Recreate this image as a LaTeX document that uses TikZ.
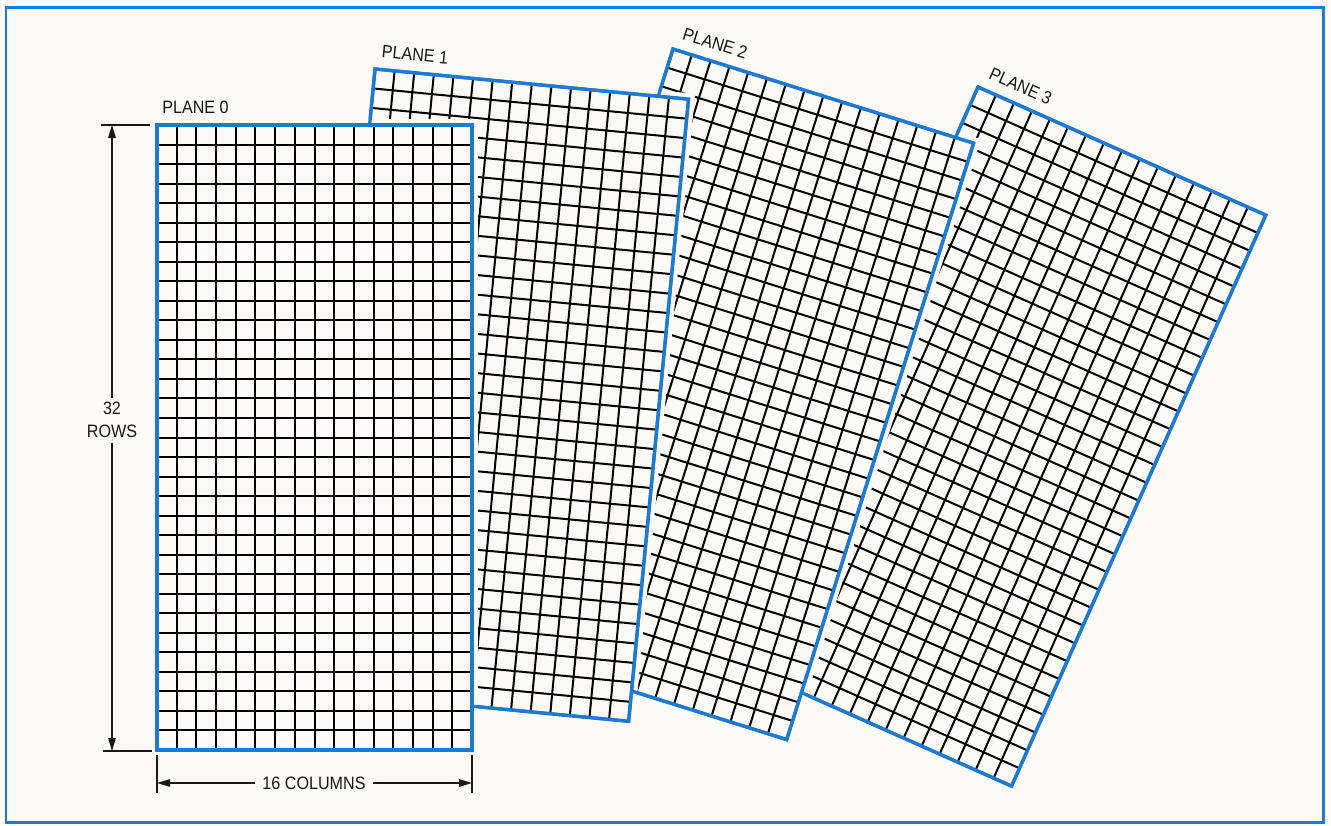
\documentclass[tikz,border=0pt]{standalone}
\usepackage{fontspec}
\setsansfont{Liberation Sans}[FakeStretch=0.9]
\usepackage{tikz}
\usetikzlibrary{arrows.meta}

\definecolor{planeblue}{RGB}{30,122,208}
\definecolor{paper}{RGB}{251,250,246}
\definecolor{ink}{RGB}{25,23,23}

%% one sheet of 16 x 32 cells: fill, grid, blue edge and title
\newcommand{\planesheet}[2]{%
  \begin{scope}[#1]
    \fill[paper] (0,0) rectangle (315,625);
    \foreach \col in {1,...,15}
      \draw[gridline] (\col*19.6875,0) -- (\col*19.6875,625);
    \foreach \row in {1,...,31}
      \draw[gridline] (0,\row*19.53125) -- (315,\row*19.53125);
    \draw[edge] (0,0) rectangle (315,625);
    \node[planelabel] (#1-title) at (5,-12) {#2};
  \end{scope}}

%% white gap round the sheet in front (#1), then the edge of the sheet behind (#2) again
\newcommand{\planehalo}[2]{%
  \begin{scope}[#1]
    \draw[halo] (0,0) rectangle (315,625);
  \end{scope}
  \begin{scope}[#2]
    \draw[edge] (0,0) rectangle (315,625);
  \end{scope}}

\begin{document}
\begin{tikzpicture}[
    x=0.02cm, y=-0.02cm,
    font=\sffamily\fontsize{10.2}{13}\selectfont,
    gridline/.style={black, line width=0.04cm},
    edge/.style={planeblue, line width=0.066cm},
    halo/.style={paper, line width=0.24cm},
    frame/.style={planeblue, line width=0.06cm},
    dimline/.style={ink, line width=0.026cm},
    dimarr/.style={dimline, -{Triangle[length=2.6mm,width=1.5mm]}},
    planelabel/.style={anchor=base west, inner sep=0pt, transform shape, text=ink},
    dimlabel/.style={align=center, inner sep=2.5pt, text=ink},
    plane0/.style={shift={(157,125)}},
    plane1/.style={shift={(375,69)}, rotate=-5.5},
    plane2/.style={shift={(673,49)}, rotate=-17.4},
    plane3/.style={shift={(978,87)}, rotate=-24}
]
    \useasboundingbox (0,0) rectangle (1331,825);
    \fill[paper] (0,0) rectangle (1331,825);
    \draw[frame] (6,7) rectangle (1323,822);

    %% Sheets, back to front
    \planesheet{plane3}{PLANE 3}
    \planehalo{plane2}{plane3}
    \planesheet{plane2}{PLANE 2}
    \planehalo{plane1}{plane2}
    \planesheet{plane1}{PLANE 1}
    \planehalo{plane0}{plane1}
    \planesheet{plane0}{PLANE 0}

    %% Rows
    \coordinate (rtop) at (112,125);
    \coordinate (rbot) at (112,751);
    \node[dimlabel] (rows) at (112,420) {32\\ROWS};
    \draw[dimline] (101,125) -- (150,125);
    \draw[dimline] (103,751) -- (152,751);
    \draw[dimarr] (rows) -- (rtop);
    \draw[dimarr] (rows) -- (rbot);

    %% Columns
    \coordinate (cleft) at (157,783);
    \coordinate (cright) at (472,783);
    \node[dimlabel, inner sep=4pt] (cols) at (314,783) {16 COLUMNS};
    \draw[dimline] (157,755) -- (157,793);
    \draw[dimline] (472,755) -- (472,793);
    \draw[dimarr] (cols) -- (cleft);
    \draw[dimarr] (cols) -- (cright);
\end{tikzpicture}
\end{document}
